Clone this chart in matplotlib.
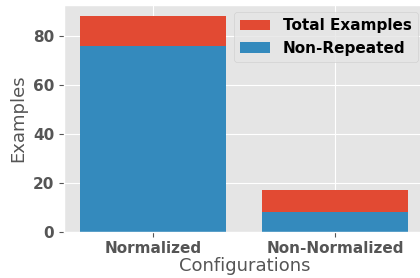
import matplotlib
matplotlib.use("Agg")
import matplotlib.pyplot as plt

plt.style.use("ggplot")

configs = ["Normalized", "Non-Normalized"]
total_examples = [88, 17]
non_repeated = [76, 8]

fig = plt.figure(figsize=(4.2, 2.78), dpi=100)
ax = fig.add_axes([64/420, 1 - 231.5/278, (424.5-64)/420, (231.5-5.4)/278])

ax.bar(configs, total_examples, width=0.8, color="#E24A33", label="Total Examples")
ax.bar(configs, non_repeated, width=0.8, color="#348ABD", label="Non-Repeated")

ax.set_xlabel("Configurations", fontsize=13, color="#555555")
ax.set_ylabel("Examples", fontsize=13, color="#555555")
ax.xaxis.set_label_coords(0.5007, -0.114)
ax.yaxis.set_label_coords(-0.1015, 0.5)
for lab in ax.get_xticklabels() + ax.get_yticklabels():
    lab.set_fontweight("bold")
    lab.set_fontsize(11)
ax.set_yticks([0, 20, 40, 60, 80])
leg = ax.legend(loc="upper right", prop={"weight": "bold", "size": 11},
                bbox_to_anchor=(417.7/420, 1 - 12.3/278),
                bbox_transform=fig.transFigure, borderaxespad=0)
fig.savefig("out.png", dpi=100)
